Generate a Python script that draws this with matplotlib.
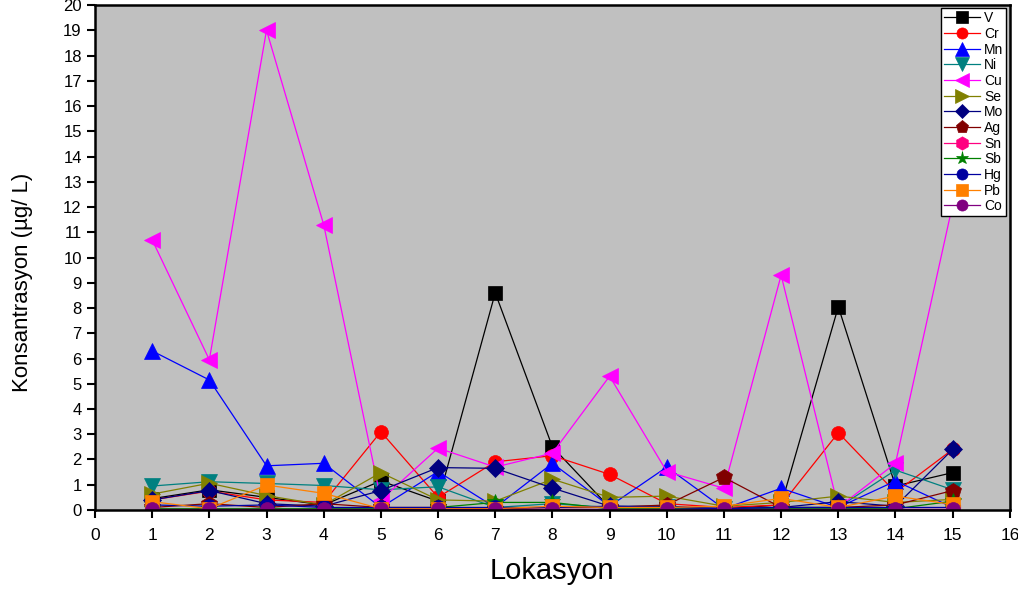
import numpy as np
import matplotlib
matplotlib.use("Agg")
import matplotlib.pyplot as plt

plt.rcParams['font.family'] = ['Liberation Sans', 'DejaVu Sans']

# Lokasyon numbers
lokasyon = list(range(1, 16))

# concentrations (ug/L)
V  = [0.45, 0.8, 0.5, 0.2, 1.15, 0.35, 8.6, 2.5, 0.1, 0.1, 0.05, 0.2, 8.05, 0.95, 1.48]
Cr = [0.4, 0.75, 0.4, 0.3, 3.1, 0.5, 1.91, 2.15, 1.41, 0.25, 0.1, 0.2, 3.06, 0.7, 2.4]
Mn = [6.3, 5.15, 1.75, 1.85, 0.1, 1.52, 0.1, 1.85, 0.15, 1.7, 0.05, 0.86, 0.1, 1.15, 0.1]
Ni = [0.95, 1.12, 1.05, 0.97, 0.8, 0.92, 0.1, 0.25, 0.1, 0.1, 0.05, 0.1, 0.1, 1.58, 0.8]
Cu = [10.7, 5.95, 19.0, 11.3, 0.4, 2.45, 1.7, 2.25, 5.3, 1.52, 0.86, 9.3, 0.1, 1.85, 12.1]
Se = [0.63, 1.06, 0.57, 0.2, 1.48, 0.4, 0.35, 1.22, 0.5, 0.55, 0.15, 0.3, 0.55, 0.3, 0.42]
Mo = [0.4, 0.77, 0.25, 0.15, 0.77, 1.68, 1.65, 0.87, 0.15, 0.15, 0.05, 0.1, 0.33, 0.15, 2.4]
Ag = [0.1, 0.25, 0.1, 0.25, 0.1, 0.1, 0.05, 0.1, 0.1, 0.2, 1.29, 0.1, 0.1, 0.2, 0.77]
Sn = [0.05, 0.05, 0.05, 0.05, 0.05, 0.05, 0.05, 0.05, 0.05, 0.05, 0.05, 0.05, 0.05, 0.05, 0.05]
Sb = [0.05, 0.05, 0.05, 0.05, 0.05, 0.1, 0.3, 0.3, 0.05, 0.05, 0.05, 0.05, 0.05, 0.05, 0.35]
Hg = [0.2, 0.15, 0.2, 0.1, 0.1, 0.1, 0.1, 0.1, 0.15, 0.1, 0.05, 0.1, 0.1, 0.1, 0.1]
Pb = [0.33, 0.05, 0.99, 0.66, 0.05, 0.05, 0.05, 0.15, 0.1, 0.1, 0.15, 0.46, 0.1, 0.55, 0.22]
Co = [0.05, 0.05, 0.05, 0.05, 0.05, 0.05, 0.05, 0.05, 0.05, 0.05, 0.05, 0.05, 0.05, 0.05, 0.05]

series = [
    ("V", V, "s", "black"),
    ("Cr", Cr, "o", "red"),
    ("Mn", Mn, "^", "blue"),
    ("Ni", Ni, "v", "#008080"),
    ("Cu", Cu, "<", "magenta"),
    ("Se", Se, ">", "#808000"),
    ("Mo", Mo, "D", "#000080"),
    ("Ag", Ag, "p", "#800000"),
    ("Sn", Sn, "h", "#FF0080"),
    ("Sb", Sb, "*", "#008000"),
    ("Hg", Hg, "o", "#0000A0"),
    ("Pb", Pb, "s", "#FF8000"),
    ("Co", Co, "o", "#800080"),
]

fig = plt.figure(figsize=(10.18, 5.9), dpi=100)
ax = fig.add_axes([0.0933, 0.1356, 0.8987, 0.8559])
ax.set_facecolor("#C0C0C0")

for name, vals, mk, col in series:
    ms = 10
    if mk == "D":
        ms = 9
    if mk in ("<", ">", "^", "v", "p", "h", "*"):
        ms = 12
    ax.plot(lokasyon, vals, color=col, marker=mk, markersize=ms,
            linewidth=0.9, markeredgewidth=0.5, markeredgecolor=col, label=name)

ax.set_xlim(0, 16)
ax.set_ylim(0, 20)
ax.set_xticks(range(0, 17))
ax.set_yticks(range(0, 21))
ax.tick_params(direction="out", length=6, width=1.5, labelsize=12)
ax.tick_params(axis="x", pad=7, labelsize=12.5)
for sp in ax.spines.values():
    sp.set_linewidth(1.8)

ax.set_xlabel("Lokasyon", fontsize=21)
ax.xaxis.set_label_coords(0.50, -0.093)
ax.set_ylabel("Konsantrasyon (µg/ L)", fontsize=16)
ax.yaxis.set_label_coords(-0.068, 0.45)

leg = ax.legend(loc="upper right", fontsize=10, frameon=True, fancybox=False,
                edgecolor="black", framealpha=1, labelspacing=0.12,
                handlelength=2.6, handletextpad=0.3, borderpad=0.2,
                borderaxespad=0.25, markerscale=0.8)
leg.get_frame().set_linewidth(1.0)

fig.savefig("out.png", dpi=100)
